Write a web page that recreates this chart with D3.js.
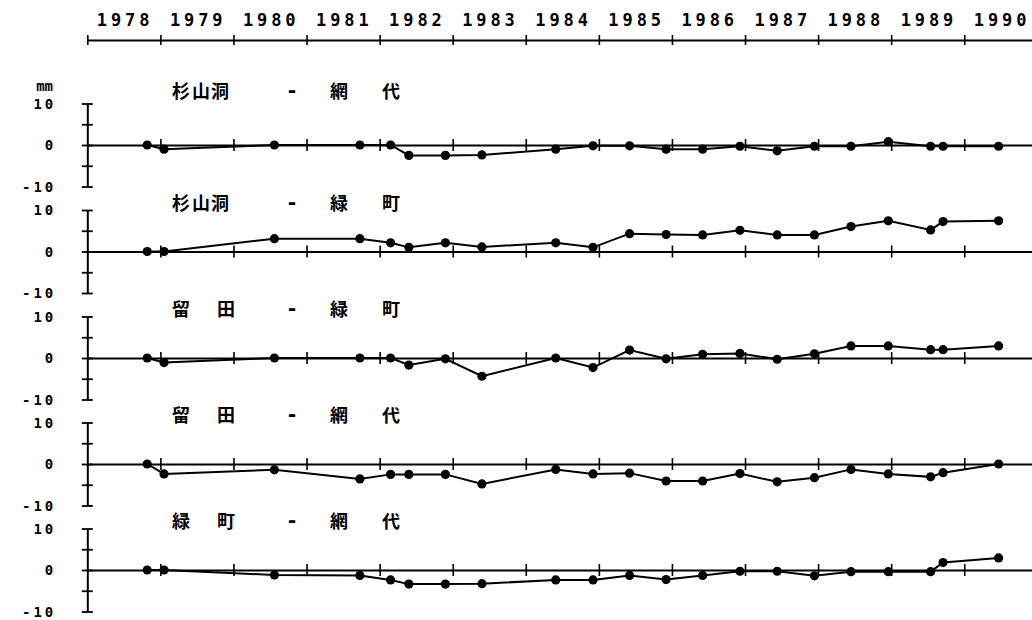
<!DOCTYPE html>
<html><head><meta charset="utf-8">
<script src="https://cdn.jsdelivr.net/npm/d3@7"></script>
<style>
html,body{margin:0;padding:0;background:#fff;overflow:hidden;}
svg{display:block;}
</style></head>
<body>
<svg id="chart" width="1032" height="620"></svg>
<script>
// ---- data ----
const years = [1978,1979,1980,1981,1982,1983,1984,1985,1986,1987,1988,1989,1990];
const yearLabels = ["1978","1979","1980","1981","1982","1983","1984","1985","1986","1987","1988","1989","1990"];
const surveyDates = [1978.82,1979.05,1980.56,1981.73,1982.15,1982.40,1982.90,1983.40,1984.41,1984.92,1985.42,1985.92,1986.42,1986.93,1987.44,1987.95,1988.45,1988.96,1989.54,1989.71,1990.47];
const panelTitles = [
  ["杉","山","洞","-","網","代"],
  ["杉","山","洞","-","緑","町"],
  ["留","田","-","緑","町"],
  ["留","田","-","網","代"],
  ["緑","町","-","網","代"]
];
const sugiyamaAjiro   = [0,-1.0,0,0,0,-2.5,-2.5,-2.4,-1.0,-0.2,-0.2,-1.0,-1.0,-0.3,-1.4,-0.3,-0.3,0.8,-0.3,-0.3,-0.3];
const sugiyamaMidori  = [0,0,3.1,3.1,2.1,1.0,2.1,1.1,2.1,1.0,4.3,4.1,4.0,5.1,4.0,4.0,6.0,7.4,5.2,7.2,7.4];
const tomedaMidori    = [0,-1.1,0,0,0,-1.7,-0.2,-4.4,0,-2.3,1.9,-0.2,0.9,1.1,-0.3,1.0,2.9,2.9,2.0,2.0,2.9];
const tomedaAjiro     = [0,-2.4,-1.4,-3.6,-2.5,-2.5,-2.5,-4.8,-1.3,-2.4,-2.2,-4.1,-4.1,-2.3,-4.3,-3.3,-1.3,-2.4,-3.1,-2.1,0];
const midoriAjiro     = [0,0,-1.2,-1.3,-2.4,-3.4,-3.4,-3.3,-2.4,-2.4,-1.3,-2.3,-1.3,-0.3,-0.3,-1.4,-0.4,-0.4,-0.4,1.8,2.9];
const seriesValues = [sugiyamaAjiro, sugiyamaMidori, tomedaMidori, tomedaAjiro, midoriAjiro];
const yTicks = [-10,-5,0,5,10];
const yLabelTicks = [-10,0,10];

// ---- layout ----
const svg = d3.select("#chart");
const X0 = 87.3, STEP = 73.08;
const x = d3.scaleLinear().domain([1978, 1991]).range([X0, X0 + 13*STEP]);
const numFont = "'DejaVu Sans Mono', monospace";
const cjkFont = "'Noto Sans CJK JP', 'Noto Sans CJK SC', sans-serif";

// top axis
const topY = 40;
const topAxis = d3.axisTop(x).tickValues(years).tickFormat("").tickSizeOuter(0);
const gTop = svg.append("g").attr("transform", `translate(0,${topY})`).call(topAxis);
gTop.select(".domain").attr("stroke","#000").attr("stroke-width",2);
gTop.selectAll(".tick line").attr("y1",-5).attr("y2",5).attr("stroke","#000").attr("stroke-width",1.6);
svg.append("g").selectAll("text").data(years).join("text")
  .attr("x", d => x(d) + 9.5)
  .attr("y", 25.5)
  .attr("font-family", numFont).attr("font-weight","bold")
  .attr("font-size", 17).attr("letter-spacing", 3.9)
  .attr("fill","#000")
  .text((d,i) => yearLabels[i]);

// panels
const zeros = [145, 251.5, 358, 464, 570];
const half = 41.5;
const titleX = {
  6: [172, 192, 211, 286, 330, 382],
  5: [172, 217, 286, 330, 382]
};

seriesValues.forEach((vals, p) => {
  const z = zeros[p];
  const y = d3.scaleLinear().domain([-10, 10]).range([z + half, z - half]);
  const g = svg.append("g");

  // y axis
  const ya = d3.axisLeft(y).tickValues(yTicks).tickSizeOuter(0).tickFormat(d => yLabelTicks.includes(d) ? String(d) : "");
  const gy = g.append("g").attr("transform", `translate(${X0},0)`).call(ya);
  gy.select(".domain").attr("stroke","#000").attr("stroke-width",2);
  gy.selectAll(".tick line").attr("x1",-5.5).attr("x2",5.5).attr("stroke","#000").attr("stroke-width",1.8);
  gy.selectAll(".tick text").attr("x",-31).attr("dy","0.33em")
    .attr("text-anchor","end")
    .attr("font-family", numFont).attr("font-weight","bold").attr("font-size",14)
    .attr("letter-spacing",3).attr("fill","#000")
    .text(d => yLabelTicks.includes(d) ? (d < 0 ? "-10" : String(d)) : "");

  // zero line with year ticks
  const za = d3.axisBottom(x).tickValues(years.slice(1)).tickFormat("").tickSizeOuter(0);
  const gz = g.append("g").attr("transform", `translate(0,${y(0)})`).call(za);
  gz.select(".domain").attr("stroke","#000").attr("stroke-width",2);
  gz.selectAll(".tick line").attr("y1",-6).attr("y2",6).attr("stroke","#000").attr("stroke-width",1.6);

  // series line
  const pts = surveyDates.map((d,i) => [d, vals[i]]);
  g.append("path").datum(pts)
    .attr("fill","none").attr("stroke","#000").attr("stroke-width",2)
    .attr("d", d3.line().x(d => x(d[0])).y(d => y(d[1])));
  g.selectAll("circle").data(pts).join("circle")
    .attr("cx", d => x(d[0])).attr("cy", d => y(d[1])).attr("r", 4.6).attr("fill","#000");

  // title
  const chars = panelTitles[p];
  const xs = titleX[chars.length];
  const ty = z - (p === 0 ? 55 : 50);
  g.append("g").selectAll("text").data(chars).join("text")
    .attr("x", (d,i) => xs[i]).attr("y", ty)
    .attr("dominant-baseline","central")
    .attr("font-family", d => d === "-" ? numFont : cjkFont)
    .attr("font-weight","bold").attr("font-size", d => d === "-" ? 20 : 18)
    .attr("fill","#000")
    .text(d => d);
});

// unit label
svg.append("text").attr("x", 53).attr("y", 91).attr("text-anchor","end")
  .attr("font-family", numFont).attr("font-weight","bold").attr("font-size",14)
  .attr("letter-spacing",0).attr("fill","#000").text("mm");
</script>
</body></html>
